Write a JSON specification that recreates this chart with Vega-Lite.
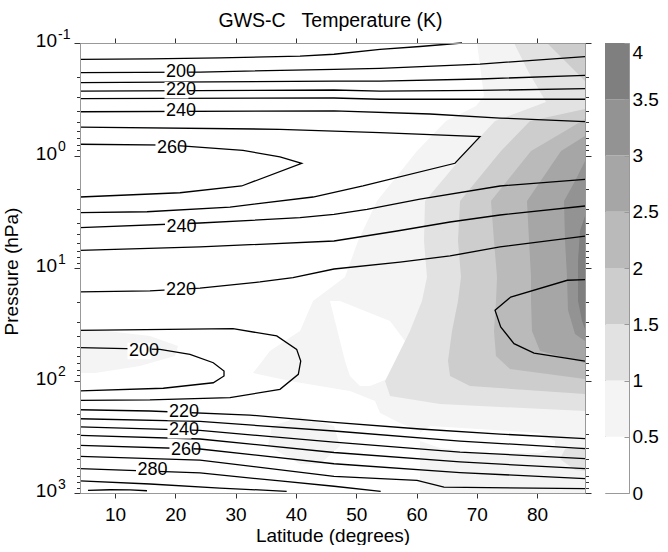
{
"$schema": "https://vega.github.io/schema/vega-lite/v6.json",
"background": "white",
"padding": {"left": 2, "top": 11, "right": 0, "bottom": 0},
"config": {"font": "Liberation Sans", "view": {"stroke": null}, "axis": {"grid": false}},
"spacing": 20,
"bounds": "flush",
"resolve": {"scale": {"color": "independent"}},
"datasets": {
"lines": [
{"c":"190","o":0,"lat":4.2,"lp":-0.855},{"c":"190","o":1,"lat":15.8,"lp":-0.858},{"c":"190","o":2,"lat":27.41,"lp":-0.867},{"c":"190","o":3,"lat":40.68,"lp":-0.884},{"c":"190","o":4,"lat":46.32,"lp":-0.9},{"c":"190","o":5,"lat":53.95,"lp":-0.944},{"c":"190","o":6,"lat":60.58,"lp":-0.969},{"c":"190","o":7,"lat":67.55,"lp":-1},
{"c":"200a","o":0,"lat":4.2,"lp":-0.736},{"c":"200a","o":1,"lat":24.1,"lp":-0.742},{"c":"200a","o":2,"lat":46.32,"lp":-0.766},{"c":"200a","o":3,"lat":53.95,"lp":-0.775},{"c":"200a","o":4,"lat":70.53,"lp":-0.813},{"c":"200a","o":5,"lat":87.94,"lp":-0.878},
{"c":"210a","o":0,"lat":4.2,"lp":-0.647},{"c":"210a","o":1,"lat":46.32,"lp":-0.662},{"c":"210a","o":2,"lat":53.95,"lp":-0.662},{"c":"210a","o":3,"lat":70.53,"lp":-0.68},{"c":"210a","o":4,"lat":87.94,"lp":-0.713},
{"c":"220a","o":0,"lat":4.2,"lp":-0.573},{"c":"220a","o":1,"lat":46.32,"lp":-0.582},{"c":"220a","o":2,"lat":53.95,"lp":-0.573},{"c":"220a","o":3,"lat":70.53,"lp":-0.578},{"c":"220a","o":4,"lat":87.94,"lp":-0.594},
{"c":"230a","o":0,"lat":4.2,"lp":-0.505},{"c":"230a","o":1,"lat":46.32,"lp":-0.511},{"c":"230a","o":2,"lat":53.95,"lp":-0.5},{"c":"230a","o":3,"lat":87.94,"lp":-0.5},
{"c":"240a","o":0,"lat":4.2,"lp":-0.389},{"c":"240a","o":1,"lat":46.32,"lp":-0.396},{"c":"240a","o":2,"lat":62.24,"lp":-0.369},{"c":"240a","o":3,"lat":73.85,"lp":-0.333},{"c":"240a","o":4,"lat":87.94,"lp":-0.301},
{"c":"250","o":0,"lat":4.2,"lp":-0.253},{"c":"250","o":1,"lat":37.36,"lp":-0.233},{"c":"250","o":2,"lat":53.95,"lp":-0.203},{"c":"250","o":3,"lat":70.53,"lp":-0.167},{"c":"250","o":4,"lat":66.38,"lp":0.069},{"c":"250","o":5,"lat":51.13,"lp":0.271},{"c":"250","o":6,"lat":42.84,"lp":0.369},{"c":"250","o":7,"lat":29.07,"lp":0.458},{"c":"250","o":8,"lat":15.31,"lp":0.5},{"c":"250","o":9,"lat":4.2,"lp":0.508},
{"c":"260","o":0,"lat":4.2,"lp":-0.1},{"c":"260","o":1,"lat":19.29,"lp":-0.093},{"c":"260","o":2,"lat":31.23,"lp":-0.046},{"c":"260","o":3,"lat":37.36,"lp":0.013},{"c":"260","o":4,"lat":40.96,"lp":0.069},{"c":"260","o":5,"lat":31.01,"lp":0.271},{"c":"260","o":6,"lat":20.78,"lp":0.331},{"c":"260","o":7,"lat":4.2,"lp":0.369},
{"c":"240b","o":0,"lat":4.2,"lp":0.642},{"c":"240b","o":1,"lat":24.1,"lp":0.6},{"c":"240b","o":2,"lat":40.68,"lp":0.553},{"c":"240b","o":3,"lat":46.32,"lp":0.523},{"c":"240b","o":4,"lat":51.79,"lp":0.478},{"c":"240b","o":5,"lat":60.58,"lp":0.387},{"c":"240b","o":6,"lat":73.85,"lp":0.271},{"c":"240b","o":7,"lat":87.94,"lp":0.212},
{"c":"230b","o":0,"lat":4.2,"lp":0.843},{"c":"230b","o":1,"lat":24.1,"lp":0.813},{"c":"230b","o":2,"lat":46.32,"lp":0.76},{"c":"230b","o":3,"lat":56.77,"lp":0.671},{"c":"230b","o":4,"lat":65.56,"lp":0.591},{"c":"230b","o":5,"lat":73.85,"lp":0.529},{"c":"230b","o":6,"lat":87.94,"lp":0.449},
{"c":"220b","o":0,"lat":4.2,"lp":1.213},{"c":"220b","o":1,"lat":15.8,"lp":1.204},{"c":"220b","o":2,"lat":24.1,"lp":1.178},{"c":"220b","o":3,"lat":34.05,"lp":1.124},{"c":"220b","o":4,"lat":39.52,"lp":1.086},{"c":"220b","o":5,"lat":46.32,"lp":1.009},{"c":"220b","o":6,"lat":57.26,"lp":0.947},{"c":"220b","o":7,"lat":65.56,"lp":0.893},{"c":"220b","o":8,"lat":73.85,"lp":0.813},{"c":"220b","o":9,"lat":87.94,"lp":0.716},
{"c":"210r","o":0,"lat":87.94,"lp":1.104},{"c":"210r","o":1,"lat":85.01,"lp":1.109},{"c":"210r","o":2,"lat":75.62,"lp":1.258},{"c":"210r","o":3,"lat":73.02,"lp":1.376},{"c":"210r","o":4,"lat":73.96,"lp":1.524},{"c":"210r","o":5,"lat":76.17,"lp":1.673},{"c":"210r","o":6,"lat":79.49,"lp":1.756},{"c":"210r","o":7,"lat":87.94,"lp":1.827},
{"c":"210l","o":0,"lat":4.2,"lp":1.554},{"c":"210l","o":1,"lat":29.57,"lp":1.539},{"c":"210l","o":2,"lat":36.82,"lp":1.604},{"c":"210l","o":3,"lat":40.13,"lp":1.723},{"c":"210l","o":4,"lat":40.8,"lp":1.827},{"c":"210l","o":5,"lat":40.4,"lp":1.945},{"c":"210l","o":6,"lat":37.36,"lp":2.078},{"c":"210l","o":7,"lat":29.07,"lp":2.153},{"c":"210l","o":8,"lat":15.8,"lp":2.173},{"c":"210l","o":9,"lat":4.2,"lp":2.176},
{"c":"200l","o":0,"lat":4.2,"lp":1.708},{"c":"200l","o":1,"lat":17.46,"lp":1.723},{"c":"200l","o":2,"lat":22.44,"lp":1.767},{"c":"200l","o":3,"lat":26.3,"lp":1.842},{"c":"200l","o":4,"lat":28.08,"lp":1.916},{"c":"200l","o":5,"lat":28.08,"lp":1.96},{"c":"200l","o":6,"lat":26.3,"lp":2.02},{"c":"200l","o":7,"lat":18.01,"lp":2.069},{"c":"200l","o":8,"lat":4.2,"lp":2.093},
{"c":"220c","o":0,"lat":4.2,"lp":2.26},{"c":"220c","o":1,"lat":15.8,"lp":2.271},{"c":"220c","o":2,"lat":32.39,"lp":2.307},{"c":"220c","o":3,"lat":46.32,"lp":2.373},{"c":"220c","o":4,"lat":60.58,"lp":2.431},{"c":"220c","o":5,"lat":73.85,"lp":2.476},{"c":"220c","o":6,"lat":87.94,"lp":2.517},
{"c":"230c","o":0,"lat":4.2,"lp":2.34},{"c":"230c","o":1,"lat":24.1,"lp":2.364},{"c":"230c","o":2,"lat":46.32,"lp":2.449},{"c":"230c","o":3,"lat":67.22,"lp":2.538},{"c":"230c","o":4,"lat":87.94,"lp":2.606},
{"c":"240c","o":0,"lat":4.2,"lp":2.413},{"c":"240c","o":1,"lat":24.1,"lp":2.444},{"c":"240c","o":2,"lat":46.32,"lp":2.547},{"c":"240c","o":3,"lat":67.22,"lp":2.636},{"c":"240c","o":4,"lat":87.94,"lp":2.695},
{"c":"250c","o":0,"lat":4.2,"lp":2.487},{"c":"250c","o":1,"lat":24.1,"lp":2.52},{"c":"250c","o":2,"lat":46.32,"lp":2.64},{"c":"250c","o":3,"lat":67.22,"lp":2.724},{"c":"250c","o":4,"lat":87.94,"lp":2.784},
{"c":"260c","o":0,"lat":4.2,"lp":2.576},{"c":"260c","o":1,"lat":24.1,"lp":2.609},{"c":"260c","o":2,"lat":46.32,"lp":2.74},{"c":"260c","o":3,"lat":67.22,"lp":2.818},{"c":"260c","o":4,"lat":87.94,"lp":2.873},
{"c":"270c","o":0,"lat":4.2,"lp":2.674},{"c":"270c","o":1,"lat":24.1,"lp":2.707},{"c":"270c","o":2,"lat":46.32,"lp":2.852},{"c":"270c","o":3,"lat":60.08,"lp":2.887},{"c":"270c","o":4,"lat":64.56,"lp":2.947},{"c":"270c","o":5,"lat":87.94,"lp":2.962},
{"c":"280c","o":0,"lat":4.2,"lp":2.784},{"c":"280c","o":1,"lat":24.1,"lp":2.822},{"c":"280c","o":2,"lat":37.36,"lp":2.893},{"c":"280c","o":3,"lat":46.32,"lp":2.94},{"c":"280c","o":4,"lat":54.06,"lp":2.985},
{"c":"290c","o":0,"lat":4.2,"lp":2.893},{"c":"290c","o":1,"lat":15.8,"lp":2.92},{"c":"290c","o":2,"lat":27.41,"lp":2.956},{"c":"290c","o":3,"lat":38.47,"lp":2.985},
{"c":"300","o":0,"lat":5.52,"lp":2.976},{"c":"300","o":1,"lat":9.17,"lp":2.971},{"c":"300","o":2,"lat":12.49,"lp":2.973},{"c":"300","o":3,"lat":15.31,"lp":2.98}
],
"fills": [
{"pid":"v1","lvl":0.75,"lp":-1.0,"lat":70.03,"lat2":87.94},{"pid":"v1","lvl":0.75,"lp":-0.529,"lat":71.19,"lat2":87.94},{"pid":"v1","lvl":0.75,"lp":-0.44,"lat":69.87,"lat2":87.94},{"pid":"v1","lvl":0.75,"lp":-0.307,"lat":64.89,"lat2":87.94},{"pid":"v1","lvl":0.75,"lp":-0.04,"lat":60.08,"lat2":87.94},{"pid":"v1","lvl":0.75,"lp":0.404,"lat":53.45,"lat2":87.94},{"pid":"v1","lvl":0.75,"lp":0.76,"lat":50.3,"lat2":87.94},{"pid":"v1","lvl":0.75,"lp":1.08,"lat":48.14,"lat2":87.94},{"pid":"v1","lvl":0.75,"lp":1.293,"lat":42.84,"lat2":87.94},{"pid":"v1","lvl":0.75,"lp":1.56,"lat":40.68,"lat2":87.94},{"pid":"v1","lvl":0.75,"lp":1.738,"lat":35.7,"lat2":87.94},{"pid":"v1","lvl":0.75,"lp":1.933,"lat":32.89,"lat2":87.94},{"pid":"v1","lvl":0.75,"lp":2.004,"lat":39.02,"lat2":87.94},{"pid":"v1","lvl":0.75,"lp":2.093,"lat":48.97,"lat2":87.94},{"pid":"v1","lvl":0.75,"lp":2.182,"lat":53.12,"lat2":87.94},{"pid":"v1","lvl":0.75,"lp":2.289,"lat":53.95,"lat2":87.94},{"pid":"v1","lvl":0.75,"lp":2.378,"lat":57.26,"lat2":87.94},{"pid":"v1","lvl":0.75,"lp":2.449,"lat":60.58,"lat2":87.94},{"pid":"v1","lvl":0.75,"lp":3.0,"lat":60.58,"lat2":87.94},
{"pid":"v2","lvl":0.75,"lp":1.542,"lat":4.2,"lat2":5.85},{"pid":"v2","lvl":0.75,"lp":1.604,"lat":4.2,"lat2":15.8},{"pid":"v2","lvl":0.75,"lp":1.693,"lat":4.2,"lat2":20.45},{"pid":"v2","lvl":0.75,"lp":1.782,"lat":4.2,"lat2":19.95},{"pid":"v2","lvl":0.75,"lp":1.871,"lat":4.2,"lat2":14.15},{"pid":"v2","lvl":0.75,"lp":1.933,"lat":4.2,"lat2":6.68},
{"pid":"v3","lvl":0.75,"lp":2.324,"lat":40.68,"lat2":40.68},{"pid":"v3","lvl":0.75,"lp":2.404,"lat":36.04,"lat2":46.32},{"pid":"v3","lvl":0.75,"lp":2.582,"lat":35.37,"lat2":47.31},{"pid":"v3","lvl":0.75,"lp":2.742,"lat":40.68,"lat2":44.0},
{"pid":"w1","lvl":0.25,"lp":1.293,"lat":45.66,"lat2":47.31},{"pid":"w1","lvl":0.25,"lp":1.471,"lat":46.48,"lat2":55.61},{"pid":"w1","lvl":0.25,"lp":1.649,"lat":47.31,"lat2":58.09},{"pid":"w1","lvl":0.25,"lp":1.827,"lat":48.14,"lat2":58.09},{"pid":"w1","lvl":0.25,"lp":1.96,"lat":48.97,"lat2":56.44},{"pid":"w1","lvl":0.25,"lp":2.049,"lat":50.63,"lat2":52.29},
{"pid":"w2","lvl":0.25,"lp":2.404,"lat":62.24,"lat2":62.24},{"pid":"w2","lvl":0.25,"lp":2.467,"lat":60.58,"lat2":80.48},{"pid":"w2","lvl":0.25,"lp":2.538,"lat":60.58,"lat2":82.97},{"pid":"w2","lvl":0.25,"lp":2.6,"lat":63.9,"lat2":82.97},{"pid":"w2","lvl":0.25,"lp":2.644,"lat":70.53,"lat2":80.48},
{"pid":"a1","lvl":1.25,"lp":-1.0,"lat":76.17,"lat2":87.94},{"pid":"a1","lvl":1.25,"lp":-0.751,"lat":78.49,"lat2":87.94},{"pid":"a1","lvl":1.25,"lp":-0.476,"lat":81.48,"lat2":87.94},{"pid":"a1","lvl":1.25,"lp":-0.307,"lat":73.02,"lat2":87.94},{"pid":"a1","lvl":1.25,"lp":-0.04,"lat":68.38,"lat2":87.94},{"pid":"a1","lvl":1.25,"lp":0.404,"lat":61.41,"lat2":87.94},{"pid":"a1","lvl":1.25,"lp":0.76,"lat":61.24,"lat2":87.94},{"pid":"a1","lvl":1.25,"lp":1.08,"lat":61.74,"lat2":87.94},{"pid":"a1","lvl":1.25,"lp":1.293,"lat":60.91,"lat2":87.94},{"pid":"a1","lvl":1.25,"lp":1.56,"lat":58.92,"lat2":87.94},{"pid":"a1","lvl":1.25,"lp":1.827,"lat":56.44,"lat2":87.94},{"pid":"a1","lvl":1.25,"lp":2.004,"lat":54.78,"lat2":87.94},{"pid":"a1","lvl":1.25,"lp":2.138,"lat":55.61,"lat2":87.94},{"pid":"a1","lvl":1.25,"lp":2.209,"lat":63.9,"lat2":87.94},{"pid":"a1","lvl":1.25,"lp":2.271,"lat":87.94,"lat2":87.94},
{"pid":"a2","lvl":1.25,"lp":2.591,"lat":87.94,"lat2":87.94},{"pid":"a2","lvl":1.25,"lp":2.609,"lat":84.63,"lat2":87.94},{"pid":"a2","lvl":1.25,"lp":2.698,"lat":83.8,"lat2":87.94},{"pid":"a2","lvl":1.25,"lp":2.796,"lat":86.29,"lat2":87.94},{"pid":"a2","lvl":1.25,"lp":2.804,"lat":87.94,"lat2":87.94},
{"pid":"b1","lvl":1.75,"lp":-1.0,"lat":81.64,"lat2":87.94},{"pid":"b1","lvl":1.75,"lp":-0.84,"lat":84.63,"lat2":87.94},{"pid":"b1","lvl":1.75,"lp":-0.662,"lat":87.94,"lat2":87.94},
{"pid":"b2","lvl":1.75,"lp":-0.413,"lat":87.94,"lat2":87.94},{"pid":"b2","lvl":1.75,"lp":-0.307,"lat":78.82,"lat2":87.94},{"pid":"b2","lvl":1.75,"lp":-0.04,"lat":74.01,"lat2":87.94},{"pid":"b2","lvl":1.75,"lp":0.404,"lat":67.22,"lat2":87.94},{"pid":"b2","lvl":1.75,"lp":0.76,"lat":66.88,"lat2":87.94},{"pid":"b2","lvl":1.75,"lp":1.08,"lat":67.38,"lat2":87.94},{"pid":"b2","lvl":1.75,"lp":1.293,"lat":66.88,"lat2":87.94},{"pid":"b2","lvl":1.75,"lp":1.56,"lat":65.89,"lat2":87.94},{"pid":"b2","lvl":1.75,"lp":1.827,"lat":65.22,"lat2":87.94},{"pid":"b2","lvl":1.75,"lp":1.96,"lat":65.56,"lat2":87.94},{"pid":"b2","lvl":1.75,"lp":2.049,"lat":68.87,"lat2":87.94},{"pid":"b2","lvl":1.75,"lp":2.12,"lat":87.94,"lat2":87.94},
{"pid":"c1","lvl":2.25,"lp":-0.324,"lat":87.94,"lat2":87.94},{"pid":"c1","lvl":2.25,"lp":-0.218,"lat":84.63,"lat2":87.94},{"pid":"c1","lvl":2.25,"lp":-0.04,"lat":78.99,"lat2":87.94},{"pid":"c1","lvl":2.25,"lp":0.404,"lat":72.35,"lat2":87.94},{"pid":"c1","lvl":2.25,"lp":0.76,"lat":72.85,"lat2":87.94},{"pid":"c1","lvl":2.25,"lp":1.08,"lat":73.35,"lat2":87.94},{"pid":"c1","lvl":2.25,"lp":1.293,"lat":73.18,"lat2":87.94},{"pid":"c1","lvl":2.25,"lp":1.56,"lat":72.85,"lat2":87.94},{"pid":"c1","lvl":2.25,"lp":1.782,"lat":73.18,"lat2":87.94},{"pid":"c1","lvl":2.25,"lp":1.898,"lat":75.51,"lat2":87.94},{"pid":"c1","lvl":2.25,"lp":1.987,"lat":87.94,"lat2":87.94},
{"pid":"d1","lvl":2.75,"lp":-0.173,"lat":87.94,"lat2":87.94},{"pid":"d1","lvl":2.75,"lp":-0.04,"lat":83.97,"lat2":87.94},{"pid":"d1","lvl":2.75,"lp":0.404,"lat":78.32,"lat2":87.94},{"pid":"d1","lvl":2.75,"lp":0.76,"lat":78.66,"lat2":87.94},{"pid":"d1","lvl":2.75,"lp":1.08,"lat":78.99,"lat2":87.94},{"pid":"d1","lvl":2.75,"lp":1.293,"lat":78.99,"lat2":87.94},{"pid":"d1","lvl":2.75,"lp":1.56,"lat":79.15,"lat2":87.94},{"pid":"d1","lvl":2.75,"lp":1.738,"lat":80.48,"lat2":87.94},{"pid":"d1","lvl":2.75,"lp":1.844,"lat":87.94,"lat2":87.94},
{"pid":"e1","lvl":3.25,"lp":0.049,"lat":87.94,"lat2":87.94},{"pid":"e1","lvl":3.25,"lp":0.227,"lat":86.29,"lat2":87.94},{"pid":"e1","lvl":3.25,"lp":0.404,"lat":84.46,"lat2":87.94},{"pid":"e1","lvl":3.25,"lp":0.76,"lat":84.63,"lat2":87.94},{"pid":"e1","lvl":3.25,"lp":1.08,"lat":84.96,"lat2":87.94},{"pid":"e1","lvl":3.25,"lp":1.373,"lat":85.12,"lat2":87.94},{"pid":"e1","lvl":3.25,"lp":1.587,"lat":86.29,"lat2":87.94},{"pid":"e1","lvl":3.25,"lp":1.649,"lat":87.94,"lat2":87.94},
{"pid":"f1","lvl":3.75,"lp":0.538,"lat":87.94,"lat2":87.94},{"pid":"f1","lvl":3.75,"lp":0.671,"lat":87.11,"lat2":87.94},{"pid":"f1","lvl":3.75,"lp":0.938,"lat":86.78,"lat2":87.94},{"pid":"f1","lvl":3.75,"lp":1.293,"lat":86.78,"lat2":87.94},{"pid":"f1","lvl":3.75,"lp":1.471,"lat":87.45,"lat2":87.94},{"pid":"f1","lvl":3.75,"lp":1.542,"lat":87.94,"lat2":87.94}
],
"labels": [
{"t":"200","lat":20.95,"lp":-0.745},{"t":"220","lat":20.95,"lp":-0.58},{"t":"240","lat":20.95,"lp":-0.396},{"t":"260","lat":19.45,"lp":-0.071},{"t":"240","lat":21.03,"lp":0.636},{"t":"220","lat":20.95,"lp":1.198},{"t":"200","lat":14.81,"lp":1.738},{"t":"220","lat":21.44,"lp":2.28},{"t":"240","lat":21.44,"lp":2.443},{"t":"260","lat":21.77,"lp":2.615},{"t":"280","lat":16.22,"lp":2.793}
],
"ylab": [
{"lat":4.2,"lp":-1,"e":"-1"},{"lat":4.2,"lp":0,"e":"0"},{"lat":4.2,"lp":1,"e":"1"},{"lat":4.2,"lp":2,"e":"2"},{"lat":4.2,"lp":3,"e":"3"}
],
"cbar": [
{"lo":0,"hi":0.5,"mid":0.25},{"lo":0.5,"hi":1,"mid":0.75},{"lo":1,"hi":1.5,"mid":1.25},{"lo":1.5,"hi":2,"mid":1.75},{"lo":2,"hi":2.5,"mid":2.25},{"lo":2.5,"hi":3,"mid":2.75},{"lo":3,"hi":3.5,"mid":3.25},{"lo":3.5,"hi":4,"mid":3.75}
]
},
"hconcat": [
{
"width": 505, "height": 450,
"title": {"text": "GWS-C\u00a0\u00a0 Temperature (K)", "fontSize": 19.5, "fontWeight": "normal", "frame": "group", "anchor": "middle", "baseline": "alphabetic", "offset": -19, "dx": -2, "color": "black"},
"encoding": {
"x": {"field": "lat", "type": "quantitative", "scale": {"domain": [4.2, 87.94], "nice": false, "zero": false}, "axis": null},
"y": {"field": "lp", "type": "quantitative", "scale": {"domain": [-1, 3], "nice": false, "zero": false, "reverse": true}, "axis": null}
},
"resolve": {"axis": {"x": "independent", "y": "independent"}},
"layer": [
{"data": {"name": "fills"}, "transform": [{"filter": "datum.lvl == 0.75"}],
"mark": {"type": "area", "orient": "horizontal"},
"encoding": {
"x": {"field": "lat", "type": "quantitative", "stack": null, "scale": {"domain": [4.2, 87.94], "nice": false, "zero": false},
 "axis": {"orient": "bottom", "values": [10,20,30,40,50,60,70,80], "title": "Latitude (degrees)", "titleFontSize": 19, "titleFontWeight": "normal", "titleColor": "black", "titleBaseline": "alphabetic", "titleY": 48, "labelFontSize": 19, "labelColor": "black", "labelBaseline": "alphabetic", "labelPadding": 22, "tickSize": 5, "tickColor": "#333", "domainColor": "#999", "zindex": 1, "labelFlush": false}},
"x2": {"field": "lat2"},
"y": {"field": "lp", "type": "quantitative", "scale": {"domain": [-1, 3], "nice": false, "zero": false, "reverse": true},
 "axis": {"orient": "left", "values": [-1,-0.699,-0.523,-0.398,-0.301,-0.222,-0.155,-0.097,-0.046,0,0.301,0.477,0.602,0.699,0.778,0.845,0.903,0.954,1,1.301,1.477,1.602,1.699,1.778,1.845,1.903,1.954,2,2.301,2.477,2.602,2.699,2.778,2.845,2.903,2.954,3], "labels": false, "title": "Pressure (hPa)", "titleFontSize": 19, "titleFontWeight": "normal", "titleColor": "black", "titleBaseline": "alphabetic", "titleAngle": 270, "titleX": -63, "titleY": 228, "tickSize": {"condition": {"test": "datum.value == round(datum.value)", "value": 6}, "value": 3.5}, "tickColor": "#333", "domainColor": "#999", "zindex": 1}},
"detail": {"field": "pid"},
"color": {"field": "lvl", "type": "quantitative", "scale": {"type": "threshold", "domain": [0.5,1,1.5,2,2.5,3,3.5], "range": ["#ffffff","#f3f4f3","#e2e2e2","#cdcdcd","#bababa","#a6a6a6","#939393","#7f7f7f"]}, "legend": null}
}},
{"data": {"name": "fills"}, "transform": [{"filter": "datum.lvl == 0.25"}],
"mark": {"type": "area", "orient": "horizontal"},
"encoding": {"x2": {"field": "lat2"}, "detail": {"field": "pid"},
"color": {"field": "lvl", "type": "quantitative", "scale": {"type": "threshold", "domain": [0.5,1,1.5,2,2.5,3,3.5], "range": ["#ffffff","#f3f4f3","#e2e2e2","#cdcdcd","#bababa","#a6a6a6","#939393","#7f7f7f"]}, "legend": null}}},
{"data": {"name": "fills"}, "transform": [{"filter": "datum.lvl == 1.25"}],
"mark": {"type": "area", "orient": "horizontal"},
"encoding": {"x2": {"field": "lat2"}, "detail": {"field": "pid"},
"color": {"field": "lvl", "type": "quantitative", "scale": {"type": "threshold", "domain": [0.5,1,1.5,2,2.5,3,3.5], "range": ["#ffffff","#f3f4f3","#e2e2e2","#cdcdcd","#bababa","#a6a6a6","#939393","#7f7f7f"]}, "legend": null}}},
{"data": {"name": "fills"}, "transform": [{"filter": "datum.lvl == 1.75"}],
"mark": {"type": "area", "orient": "horizontal"},
"encoding": {"x2": {"field": "lat2"}, "detail": {"field": "pid"},
"color": {"field": "lvl", "type": "quantitative", "scale": {"type": "threshold", "domain": [0.5,1,1.5,2,2.5,3,3.5], "range": ["#ffffff","#f3f4f3","#e2e2e2","#cdcdcd","#bababa","#a6a6a6","#939393","#7f7f7f"]}, "legend": null}}},
{"data": {"name": "fills"}, "transform": [{"filter": "datum.lvl == 2.25"}],
"mark": {"type": "area", "orient": "horizontal"},
"encoding": {"x2": {"field": "lat2"}, "detail": {"field": "pid"},
"color": {"field": "lvl", "type": "quantitative", "scale": {"type": "threshold", "domain": [0.5,1,1.5,2,2.5,3,3.5], "range": ["#ffffff","#f3f4f3","#e2e2e2","#cdcdcd","#bababa","#a6a6a6","#939393","#7f7f7f"]}, "legend": null}}},
{"data": {"name": "fills"}, "transform": [{"filter": "datum.lvl == 2.75"}],
"mark": {"type": "area", "orient": "horizontal"},
"encoding": {"x2": {"field": "lat2"}, "detail": {"field": "pid"},
"color": {"field": "lvl", "type": "quantitative", "scale": {"type": "threshold", "domain": [0.5,1,1.5,2,2.5,3,3.5], "range": ["#ffffff","#f3f4f3","#e2e2e2","#cdcdcd","#bababa","#a6a6a6","#939393","#7f7f7f"]}, "legend": null}}},
{"data": {"name": "fills"}, "transform": [{"filter": "datum.lvl == 3.25"}],
"mark": {"type": "area", "orient": "horizontal"},
"encoding": {"x2": {"field": "lat2"}, "detail": {"field": "pid"},
"color": {"field": "lvl", "type": "quantitative", "scale": {"type": "threshold", "domain": [0.5,1,1.5,2,2.5,3,3.5], "range": ["#ffffff","#f3f4f3","#e2e2e2","#cdcdcd","#bababa","#a6a6a6","#939393","#7f7f7f"]}, "legend": null}}},
{"data": {"name": "fills"}, "transform": [{"filter": "datum.lvl == 3.75"}],
"mark": {"type": "area", "orient": "horizontal"},
"encoding": {"x2": {"field": "lat2"}, "detail": {"field": "pid"},
"color": {"field": "lvl", "type": "quantitative", "scale": {"type": "threshold", "domain": [0.5,1,1.5,2,2.5,3,3.5], "range": ["#ffffff","#f3f4f3","#e2e2e2","#cdcdcd","#bababa","#a6a6a6","#939393","#7f7f7f"]}, "legend": null}}},
{"data": {"name": "lines"},
"mark": {"type": "line", "color": "black", "strokeWidth": 1.3},
"encoding": {
"x": {"field": "lat", "type": "quantitative", "scale": {"domain": [4.2, 87.94], "nice": false, "zero": false},
 "axis": {"orient": "top", "values": [10,20,30,40,50,60,70,80], "labels": false, "title": null, "tickSize": 5, "tickColor": "#333", "domainColor": "#999", "zindex": 1}},
"y": {"field": "lp", "type": "quantitative", "scale": {"domain": [-1, 3], "nice": false, "zero": false, "reverse": true},
 "axis": {"orient": "right", "values": [-1,-0.699,-0.523,-0.398,-0.301,-0.222,-0.155,-0.097,-0.046,0,0.301,0.477,0.602,0.699,0.778,0.845,0.903,0.954,1,1.301,1.477,1.602,1.699,1.778,1.845,1.903,1.954,2,2.301,2.477,2.602,2.699,2.778,2.845,2.903,2.954,3], "labels": false, "title": null, "tickSize": {"condition": {"test": "datum.value == round(datum.value)", "value": 6}, "value": 3.5}, "tickColor": "#333", "domainColor": "#999", "zindex": 1}},
"detail": {"field": "c"},
"order": {"field": "o", "type": "quantitative"}
}},
{"data": {"name": "labels"},
"mark": {"type": "point", "shape": "M-1,-0.5H0.45V0.5H-1Z", "size": 1089, "filled": true, "color": "white", "opacity": 1, "strokeWidth": 0}},
{"data": {"name": "labels"},
"mark": {"type": "text", "fontSize": 18, "color": "black", "baseline": "middle"},
"encoding": {"text": {"field": "t", "type": "nominal"}}},
{"data": {"name": "ylab"},
"mark": {"type": "text", "fontSize": 19, "color": "black", "align": "right", "baseline": "alphabetic", "dx": -23, "dy": 4},
"encoding": {"text": {"value": "10"}}},
{"data": {"name": "ylab"},
"mark": {"type": "text", "fontSize": 14, "color": "black", "align": "left", "baseline": "alphabetic", "dx": -22, "dy": -4.5},
"encoding": {"text": {"field": "e", "type": "nominal"}}}
]
},
{
"width": 24, "height": 450,
"view": {"stroke": "#999"},
"data": {"name": "cbar"},
"mark": {"type": "rect"},
"encoding": {
"y": {"field": "lo", "type": "quantitative", "scale": {"domain": [0, 4], "nice": false, "zero": false},
 "axis": {"orient": "right", "values": [0,0.5,1,1.5,2,2.5,3,3.5,4], "format": "~g", "title": null, "ticks": true, "tickSize": -5, "tickColor": "#999", "domain": false, "labelFontSize": 19, "labelPadding": 8, "labelColor": "black", "zindex": 1, "labelBaseline": {"condition": {"test": "datum.value == 4", "value": "top"}, "value": "middle"}}},
"y2": {"field": "hi"},
"color": {"field": "mid", "type": "quantitative", "scale": {"type": "threshold", "domain": [0.5,1,1.5,2,2.5,3,3.5], "range": ["#ffffff","#f3f4f3","#e2e2e2","#cdcdcd","#bababa","#a6a6a6","#939393","#7f7f7f"]}, "legend": null}
}
}
]
}
